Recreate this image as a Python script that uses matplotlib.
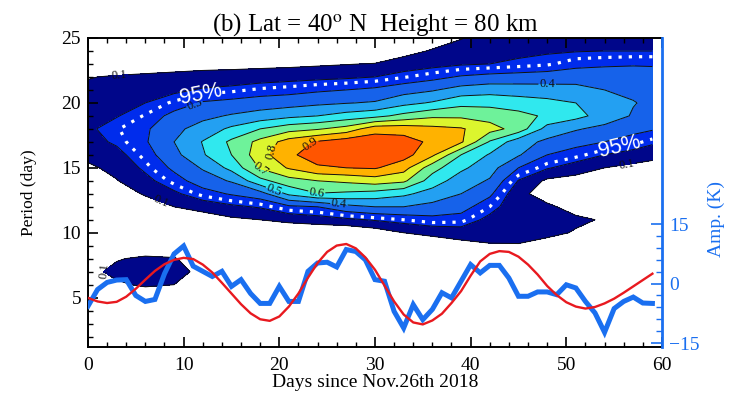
import numpy as np
import matplotlib.pyplot as plt
from matplotlib.ticker import MultipleLocator, FixedLocator

plt.rcParams['font.family'] = ['Liberation Serif', 'DejaVu Serif']
plt.rcParams['mathtext.fontset'] = 'stix'

# wavelet power table: one row per day column,
# values for periods 5, 6, ..., 25 days
grid_days = [0, 3, 6, 9, 12, 15, 18, 21, 24, 27, 30, 33, 36, 39, 42, 45, 48, 51, 54, 57, 59]
grid_periods = list(range(5, 26))
power = [
    [0, .02, .06, .02, 0, 0, 0, 0, 0, .04, .08, .13, .165, .185, .17, .15, .12, .095, 0, 0, 0],
    [0, .08, .135, .09, 0, 0, 0, .02, .05, .095, .13, .17, .215, .235, .195, .16, .13, .11, .03, 0, 0],
    [0, .12, .19, .125, 0, 0, .01, .05, .11, .17, .22, .26, .29, .285, .245, .2, .155, .12, .04, 0, 0],
    [0, .1, .15, .11, 0, 0, .03, .1, .18, .26, .32, .37, .4, .375, .33, .25, .18, .13, .05, 0, 0],
    [0, .03, .06, .03, 0, 0, .04, .14, .26, .35, .41, .49, .505, .44, .375, .31, .21, .14, .06, 0, 0],
    [0, 0, 0, 0, 0, 0, .08, .18, .31, .41, .53, .6, .62, .52, .41, .33, .225, .145, .065, 0, 0],
    [0, 0, 0, 0, 0, 0, .1, .21, .36, .57, .71, .76, .73, .6, .44, .35, .25, .155, .07, 0, 0],
    [0, 0, 0, 0, 0, 0, .13, .28, .52, .66, .81, .88, .845, .66, .475, .36, .265, .165, .075, 0, 0],
    [0, 0, 0, 0, 0, 0, .155, .3, .595, .7, .885, .95, .91, .69, .5, .38, .285, .175, .085, 0, 0],
    [0, 0, 0, 0, 0, 0, .18, .37, .58, .72, .9, .97, .955, .74, .54, .395, .3, .185, .095, 0, 0],
    [0, 0, 0, 0, 0, .04, .21, .4, .56, .75, .91, .98, .96, .86, .57, .41, .32, .2, .105, 0, 0],
    [0, 0, 0, 0, 0, .1, .24, .4, .52, .72, .84, .94, .94, .86, .63, .47, .36, .235, .15, .06, 0],
    [0, 0, 0, 0, .02, .13, .27, .37, .46, .55, .64, .82, .88, .83, .68, .51, .39, .27, .17, .11, .04],
    [0, 0, 0, 0, .06, .15, .26, .34, .4, .45, .52, .6, .815, .81, .68, .57, .44, .31, .19, .14, .095],
    [0, 0, 0, 0, .09, .14, .17, .24, .32, .39, .44, .49, .59, .74, .66, .57, .46, .33, .2, .17, .14],
    [0, 0, 0, 0, .09, .15, .14, .125, .13, .195, .3, .41, .44, .66, .63, .55, .45, .34, .215, .18, .16],
    [0, 0, 0, 0, .05, .13, .14, .12, .05, .08, .21, .3, .38, .46, .585, .53, .44, .35, .23, .19, .17],
    [0, 0, 0, 0, 0, .09, .12, .06, .02, .06, .15, .26, .33, .41, .53, .5, .43, .36, .27, .195, .18],
    [0, 0, 0, 0, 0, .05, .09, .03, .02, .04, .1, .2, .3, .37, .46, .44, .4, .37, .28, .2, .19],
    [0, 0, 0, 0, 0, .01, .02, .01, .01, .03, .07, .16, .26, .33, .39, .405, .38, .355, .29, .2, .195],
    [0, 0, 0, 0, 0, 0, 0, 0, .01, .02, .06, .13, .22, .31, .37, .38, .37, .34, .29, .2, .19],
]
levels = [0.1, 0.2, 0.3, 0.4, 0.5, 0.6, 0.7, 0.8, 0.9, 1.0]
band_colors = ['#00068a', '#002cec', '#1662ea', '#23a0f2', '#30e8ee',
               '#6ef29a', '#dcf52e', '#ffb200', '#ff5500']
signif_level = 0.24

# daily temperature amplitude (K) and fitted wave
days = list(range(60))
amp_obs = [-5.7, -1.5, 0.3, 0.9, 1.0, -3.0, -4.5, -4.0, 2.5, 7.5,
           9.5, 4.4, 3.1, 1.8, 3.1, -0.7, 1.0, -2.5, -5.0, -5.0,
           -0.7, -4.5, -4.5, 3.1, 5.2, 5.4, 4.2, 8.6, 8.1, 6.0,
           1.0, 0.6, -7.0, -11.2, -5.3, -9.1, -6.5, -2.3, -3.6, 0.6,
           4.8, 2.7, 4.6, 4.6, 1.4, -3.2, -3.2, -2.1, -2.1, -2.8,
           -0.3, -1.1, -4.5, -7.4, -12.3, -6.3, -4.5, -3.4, -4.9, -5.0]
amp_fit = [-3.6, -4.5, -4.9, -4.6, -3.3, -1.3, 1.0, 3.2, 4.9, 6.0,
           6.5, 6.2, 4.8, 2.8, 0.2, -2.5, -5.2, -7.5, -9.0, -9.4,
           -8.3, -5.8, -2.5, 1.5, 5.2, 8.0, 9.6, 10.0, 8.9, 6.6,
           3.5, -0.5, -4.5, -7.8, -9.8, -10.3, -9.3, -7.6, -4.9, -1.9,
           2.0, 5.6, 7.5, 8.2, 8.0, 6.8, 4.8, 2.3, -0.6, -2.9,
           -4.7, -5.8, -6.3, -5.9, -5.0, -3.8, -2.3, -0.7, 0.9, 2.5]

blue = '#1a6ff0'
red = '#e8191f'

Z = np.array(power).T

fig = plt.figure(figsize=(7.3, 3.94), dpi=100)
ax = fig.add_axes([0.1205, 0.1193, 0.7863, 0.7843])

ax.contourf(grid_days, grid_periods, Z, levels=levels, colors=band_colors)
lines = ax.contour(grid_days, grid_periods, Z, levels=levels[:-1],
                   colors='#111111', linewidths=0.7)
label_spots = [(3.3, 22.1), (7.3, 12.0), (11.2, 19.8), (26.2, 12.0), (19.4, 13.2),
               (23.9, 13.05), (18.0, 14.85), (18.8, 16.4), (23.2, 16.9),
               (48.0, 21.5), (56.3, 15.4), (1.6, 7.1)]
ax.clabel(lines, manual=label_spots, fmt='%.1f', fontsize=9, inline=True,
          inline_spacing=1)

dots = ax.contour(grid_days, grid_periods, Z, levels=[signif_level],
                  colors='white', linewidths=2.3)
dots.set_linestyle((0, (1.0, 2.2)))
txt = ax.clabel(dots, manual=[(11.8, 20.7), (55.5, 16.8)], fmt={signif_level: '95%'},
                fontsize=15.5, colors='white', inline=True, inline_spacing=2)
for t in txt:
    t.set_fontfamily('Liberation Sans')

ax.set_xlim(0, 60)
ax.set_ylim(1.2, 25)
ax.xaxis.set_major_locator(MultipleLocator(10))
ax.xaxis.set_minor_locator(MultipleLocator(2))
ax.yaxis.set_major_locator(MultipleLocator(5))
ax.yaxis.set_minor_locator(MultipleLocator(1))
ax.tick_params(which='both', direction='in', top=True, right=False, labelsize=14)
ax.tick_params(which='major', length=7, width=1.2)
ax.tick_params(which='minor', length=3.5, width=1.0)
ax.tick_params(axis='x', which='major', pad=7)
ax.tick_params(axis='y', which='major', pad=5)
for s in ['left', 'bottom', 'top']:
    ax.spines[s].set_linewidth(1.4)
ax.spines['right'].set_visible(False)

ax.set_xlabel('Days since Nov.26th 2018', fontsize=14, labelpad=0)
ax.set_ylabel('Period (day)', fontsize=12.5)
ax.yaxis.set_label_coords(-0.088, 0.5)
ax.set_title(r'(b) Lat = 40$^{\mathrm{o}}$ N  Height = 80 km', fontsize=18, pad=3)

ax2 = ax.twinx()
ax2.plot(days, amp_obs, color=blue, lw=3.6, solid_joinstyle='miter')
ax2.plot(days, amp_fit, color=red, lw=1.7)
ax2.set_ylim(-16, 62)
ax2.yaxis.set_major_locator(FixedLocator([-15, 0, 15]))
ax2.yaxis.set_minor_locator(FixedLocator([-12, -9, -6, -3, 3, 6, 9, 12]))
ax2.tick_params(which='both', direction='in', colors=blue, labelsize=14)
ax2.tick_params(which='major', length=8, width=1.2, pad=5)
ax2.tick_params(which='minor', length=4, width=1.0)
for s in ['left', 'bottom', 'top']:
    ax2.spines[s].set_visible(False)
ax2.spines['right'].set_color(blue)
ax2.spines['right'].set_linewidth(2)
ax2.set_ylabel('Amp. (K)', color=blue, fontsize=14)
ax2.yaxis.set_label_coords(1.08, 0.415)

fig.savefig('out.png', dpi=100)
